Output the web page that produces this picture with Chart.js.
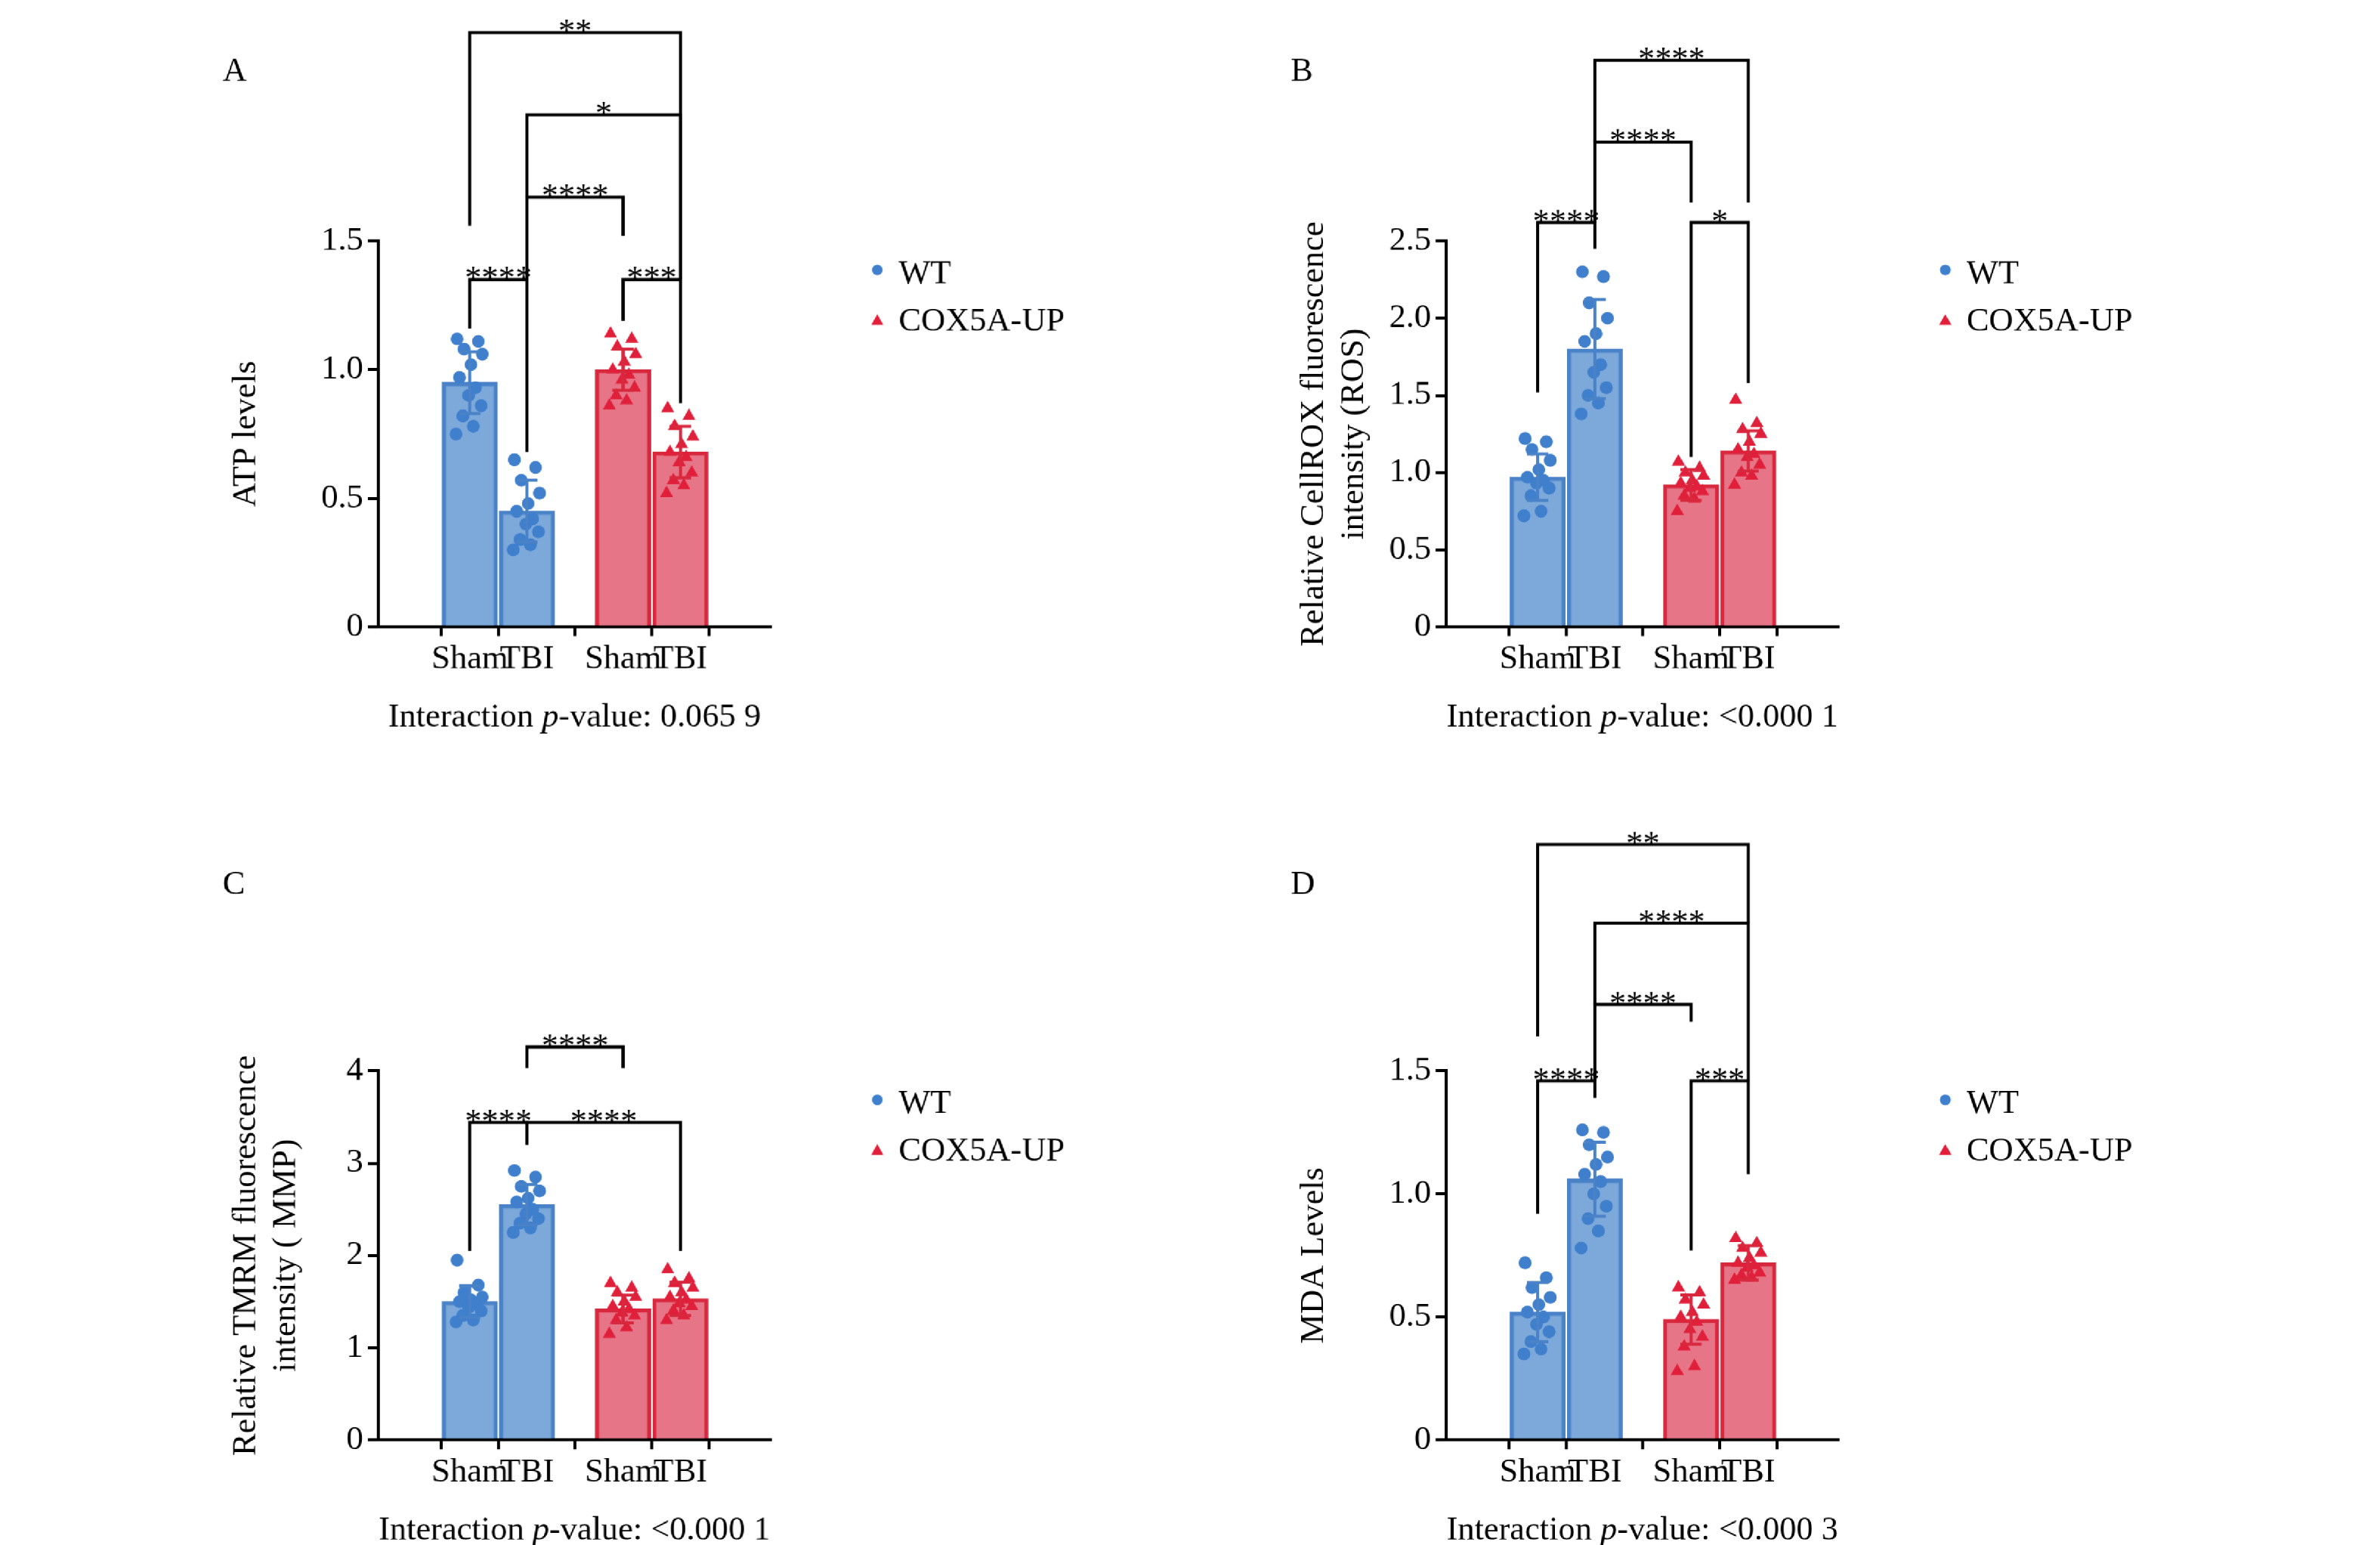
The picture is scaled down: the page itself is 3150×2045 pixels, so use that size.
<!DOCTYPE html>
<html><head><meta charset="utf-8">
<script src="https://cdn.jsdelivr.net/npm/chart.js@4.4.0/dist/chart.umd.min.js"></script>
<style>
body{margin:0;background:#fff;width:3150px;height:2045px;overflow:hidden}
#wrap{position:absolute;left:0;top:0;width:1560px;height:1013px;transform:scale(2.0192);transform-origin:0 0}
canvas{position:absolute}
</style></head><body><div id="wrap">
<canvas id="cA" width="660" height="500" style="left:140px;top:0px"></canvas>
<canvas id="cB" width="660" height="500" style="left:840px;top:0px"></canvas>
<canvas id="cC" width="660" height="500" style="left:140px;top:533px"></canvas>
<canvas id="cD" width="660" height="500" style="left:840px;top:533px"></canvas>
</div>
<script>
// ---- data ----
const xLabels = ['Sham','TBI','Sham','TBI'];
const xPos = [0, 1, 2.68, 3.68];
const seriesNames = ['WT','COX5A-UP'];
const jitter = [-0.22,0.15,-0.1,0.22,0.02,-0.18,0.1,-0.02,0.2,-0.12,0.06,-0.24];

const A_means = [0.95, 0.45, 1.0, 0.68];
const A_sd = [0.12, 0.12, 0.08, 0.10];
const A_pts = [
 [1.12,1.11,1.08,1.06,1.02,0.97,0.93,0.90,0.86,0.82,0.78,0.75],
 [0.65,0.62,0.57,0.52,0.48,0.45,0.42,0.40,0.37,0.34,0.32,0.30],
 [1.14,1.12,1.09,1.06,1.03,1.00,0.98,0.96,0.93,0.90,0.88,0.86],
 [0.85,0.82,0.78,0.74,0.71,0.68,0.66,0.64,0.60,0.57,0.55,0.52]];
const B_means = [0.97, 1.80, 0.92, 1.14];
const B_sd = [0.15, 0.32, 0.10, 0.13];
const B_pts = [
 [1.22,1.2,1.15,1.08,1.02,0.97,0.95,0.93,0.9,0.85,0.75,0.72],
 [2.3,2.27,2.1,2.0,1.9,1.85,1.7,1.65,1.55,1.5,1.45,1.38],
 [1.07,1.03,1.0,0.98,0.95,0.93,0.91,0.9,0.88,0.85,0.83,0.75],
 [1.47,1.32,1.28,1.25,1.2,1.15,1.12,1.1,1.05,1.0,0.98,0.92]];
const C_means = [1.50, 2.55, 1.42, 1.53];
const C_sd = [0.17, 0.22, 0.15, 0.18];
const C_pts = [
 [1.95,1.68,1.6,1.55,1.52,1.5,1.47,1.44,1.4,1.35,1.3,1.28],
 [2.92,2.85,2.75,2.7,2.62,2.58,2.5,2.45,2.4,2.35,2.3,2.25],
 [1.7,1.65,1.6,1.55,1.5,1.45,1.42,1.38,1.35,1.3,1.22,1.15],
 [1.85,1.75,1.7,1.65,1.6,1.55,1.52,1.48,1.45,1.4,1.35,1.3]];
const D_means = [0.52, 1.06, 0.49, 0.72];
const D_sd = [0.12, 0.15, 0.10, 0.07];
const D_pts = [
 [0.72,0.66,0.62,0.58,0.55,0.52,0.5,0.47,0.44,0.4,0.37,0.35],
 [1.26,1.25,1.2,1.15,1.12,1.08,1.05,1.0,0.95,0.9,0.85,0.78],
 [0.62,0.6,0.57,0.55,0.52,0.5,0.48,0.45,0.42,0.38,0.3,0.28],
 [0.82,0.8,0.78,0.76,0.74,0.72,0.71,0.7,0.68,0.67,0.66,0.65]];

// brackets: [i1, i2, top, leftEnd, rightEnd, label]
const A_br = [[0,1,1.35,1.16,0.68,'****'],[2,3,1.35,1.19,0.87,'***'],[1,2,1.67,1.35,1.52,'****'],[1,3,1.99,1.67,1.35,'*'],[0,3,2.31,1.56,1.35,'**']];
const B_br = [[0,1,2.62,1.52,2.45,'****'],[2,3,2.62,1.1,1.58,'*'],[1,2,3.14,2.62,2.75,'****'],[1,3,3.67,3.14,2.75,'****']];
const C_br = [[0,1,3.44,2.05,3.2,'****'],[1,3,3.44,3.2,2.05,'****'],[1,2,4.26,4.03,4.03,'****']];
const D_br = [[0,1,1.46,0.92,1.39,'****'],[2,3,1.46,0.77,1.08,'***'],[1,2,1.77,1.46,1.70,'****'],[1,3,2.10,1.77,1.46,'****'],[0,3,2.42,1.64,2.10,'**']];

const blueFill='rgba(110,158,214,0.9)', blueLine='#4a82c8', bluePt='#3f7fcc';
const redFill='rgba(230,110,130,0.95)', redLine='#d8283e', redPt='#e0203a';
const FONT='"Liberation Serif","Times New Roman",serif';

function make(id, letter, means, sd, pts, br, ymax, ystep, ytitle, pval, tickFmt){
  const colsF=[blueFill,blueFill,redFill,redFill], colsL=[blueLine,blueLine,redLine,redLine];
  const datasets=[{type:'bar',data:xPos.map((x,i)=>({x,y:means[i]})),backgroundColor:colsF,borderColor:colsL,borderWidth:2.5,barThickness:36,order:2}];
  pts.forEach((arr,g)=>{
    datasets.push({type:'scatter',data:arr.map((v,k)=>({x:xPos[g]+jitter[k],y:v})),
      pointStyle:g<2?'circle':'triangle',pointRadius:g<2?4.2:5,backgroundColor:g<2?bluePt:redPt,borderWidth:0,order:1});
  });
  const plug={id:'extra'+id,afterDraw(ch){
    const c=ch.ctx,x=ch.scales.x,y=ch.scales.y;
    c.save();
    // error bars
    means.forEach((m,i)=>{
      const px=x.getPixelForValue(xPos[i]),hi=y.getPixelForValue(m+sd[i]),lo=y.getPixelForValue(m-sd[i]);
      c.strokeStyle=colsL[i];c.lineWidth=2;c.beginPath();
      c.moveTo(px,hi);c.lineTo(px,lo);c.moveTo(px-7,hi);c.lineTo(px+7,hi);c.moveTo(px-7,lo);c.lineTo(px+7,lo);c.stroke();
    });
    // brackets
    c.strokeStyle='#000';c.lineWidth=2;c.fillStyle='#000';c.font='22px '+FONT;c.textAlign='center';c.textBaseline='alphabetic';
    br.forEach(b=>{
      const x1=x.getPixelForValue(xPos[b[0]]),x2=x.getPixelForValue(xPos[b[1]]),t=y.getPixelForValue(b[2]);
      c.beginPath();c.moveTo(x1,y.getPixelForValue(b[3]));c.lineTo(x1,t);c.lineTo(x2,t);c.lineTo(x2,y.getPixelForValue(b[4]));c.stroke();
      c.fillText(b[5],(x1+x2)/2,t-2+8);
    });
    // panel letter
    c.font='22px '+FONT;c.textAlign='left';c.fillText(letter,6,53);
    // legend
    const lx=ch.chartArea.right+70, ly=ch.chartArea.top+22;
    c.font='22px '+FONT;c.textBaseline='middle';
    c.fillStyle=bluePt;c.beginPath();c.arc(lx,ly-3,3.5,0,7);c.fill();
    c.fillStyle='#000';c.fillText(seriesNames[0],lx+14,ly);
    c.fillStyle=redPt;c.beginPath();c.moveTo(lx,ly+26);c.lineTo(lx+4,ly+33);c.lineTo(lx-4,ly+33);c.fill();
    c.fillStyle='#000';c.fillText(seriesNames[1],lx+14,ly+31);
    // p-value line
    const cx=(ch.chartArea.left+ch.chartArea.right)/2, ty=ch.chartArea.bottom+65;
    const p1='Interaction ', p2='p', p3='-value: '+pval;
    c.textBaseline='alphabetic';
    c.font='22px '+FONT;const w1=c.measureText(p1).width,w3=c.measureText(p3).width;
    c.font='italic 22px '+FONT;const w2=c.measureText(p2).width;
    let sx=cx-(w1+w2+w3)/2;
    c.font='22px '+FONT;c.fillText(p1,sx,ty);
    c.font='italic 22px '+FONT;c.fillText(p2,sx+w1,ty);
    c.font='22px '+FONT;c.fillText(p3,sx+w1+w2,ty);
    c.restore();
  }};
  new Chart(document.getElementById(id),{
    data:{datasets},
    options:{responsive:false,animation:false,devicePixelRatio:2.02,
      layout:{padding:{left:8,right:295,top:158+(id==='cC'||id==='cD'?11:0),bottom:10}},
      plugins:{legend:{display:false},tooltip:{enabled:false}},
      scales:{
        x:{type:'linear',min:-0.74,max:4.4,
          afterBuildTicks:a=>{a.ticks=xPos.map(v=>({value:v}));},
          afterFit:a=>{a.height=79;},
          border:{color:'#000',width:2},
          grid:{drawOnChartArea:false,color:'#000',tickLength:6,lineWidth:2},
          ticks:{color:'#000',font:{family:FONT,size:22},padding:2,autoSkip:false,maxRotation:0,
            callback:(v,i)=>xLabels[i]}},
        y:{min:0,max:ymax,
          afterFit:a=>{a.width=100;},
          border:{color:'#000',width:2},
          grid:{drawOnChartArea:false,color:'#000',tickLength:7,lineWidth:2},
          ticks:{stepSize:ystep,color:'#000',font:{family:FONT,size:22},padding:3,callback:tickFmt},
          title:{display:true,text:ytitle,color:'#000',font:{family:FONT,size:22},padding:{top:0,bottom:4}}}
      }},
    plugins:[plug]});
}
const f1=v=>v===0?'0':v.toFixed(1);
make('cA','A',A_means,A_sd,A_pts,A_br,1.5,0.5,'ATP levels','0.065 9',f1);
make('cB','B',B_means,B_sd,B_pts,B_br,2.5,0.5,['Relative CellROX fluorescence','intensity (ROS)'],'<0.000 1',f1);
make('cC','C',C_means,C_sd,C_pts,C_br,4,1,['Relative TMRM fluorescence','intensity ( MMP)'],'<0.000 1',v=>String(v));
make('cD','D',D_means,D_sd,D_pts,D_br,1.5,0.5,'MDA Levels','<0.000 3',f1);
</script></body></html>
